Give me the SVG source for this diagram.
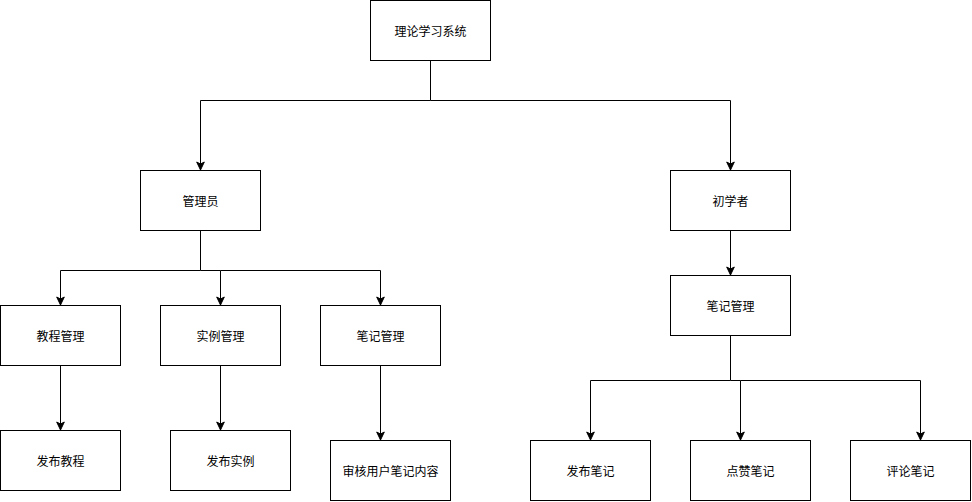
<svg xmlns="http://www.w3.org/2000/svg" width="972" height="502" viewBox="0 0 972 502">
<defs>
<style>
.box{fill:#fff;stroke:#000;stroke-width:1}
.lbl{font-family:"Noto Sans CJK SC","Liberation Sans",sans-serif;font-size:12px;fill:#000;text-anchor:middle;dominant-baseline:central}
.edge{fill:none;stroke:#000;stroke-width:1}
.arr{marker-end:url(#ah)}
</style>
<marker id="ah" markerUnits="userSpaceOnUse" markerWidth="10" markerHeight="10" refX="9" refY="5" orient="auto">
<path d="M1,1.2 L9,5 L1,8.8 L3,5 Z" fill="#000" stroke="#000" stroke-width="1"/>
</marker>
</defs>
<rect width="972" height="502" fill="#fff"/>
<g id="connectors">
<path class="edge" d="M430.5,60 V100.5 H200.5"/>
<path class="edge arr" d="M200.5,100.5 V170"/>
<path class="edge arr" d="M430.5,100.5 H730.5 V170"/>
<path class="edge" d="M200.5,230 V270.5 H60.5"/>
<path class="edge arr" d="M60.5,270.5 V305"/>
<path class="edge arr" d="M200.5,270.5 H220.5 V305"/>
<path class="edge arr" d="M220.5,270.5 H380.5 V305"/>
<path class="edge arr" d="M60.5,365 V430"/>
<path class="edge arr" d="M220.5,365 V430"/>
<path class="edge arr" d="M380.5,365 V440"/>
<path class="edge arr" d="M730.5,230 V275"/>
<path class="edge" d="M730.5,335 V380.5 H590.5"/>
<path class="edge arr" d="M590.5,380.5 V440"/>
<path class="edge arr" d="M730.5,380.5 H740.5 V440"/>
<path class="edge arr" d="M740.5,380.5 H920.5 V440"/>
</g>
<g id="n_root"><rect class="box" x="370.5" y="0.5" width="120" height="60"/><text class="lbl" x="430.5" y="30.5">理论学习系统</text></g>
<g id="n_admin"><rect class="box" x="140.5" y="170.5" width="120" height="60"/><text class="lbl" x="200.5" y="200.5">管理员</text></g>
<g id="n_beginner"><rect class="box" x="670.5" y="170.5" width="120" height="60"/><text class="lbl" x="730.5" y="200.5">初学者</text></g>
<g id="n_tutorial_mgmt"><rect class="box" x="0.5" y="305.5" width="120" height="60"/><text class="lbl" x="60.5" y="335.5">教程管理</text></g>
<g id="n_example_mgmt"><rect class="box" x="160.5" y="305.5" width="120" height="60"/><text class="lbl" x="220.5" y="335.5">实例管理</text></g>
<g id="n_note_mgmt_admin"><rect class="box" x="320.5" y="305.5" width="120" height="60"/><text class="lbl" x="380.5" y="335.5">笔记管理</text></g>
<g id="n_note_mgmt_user"><rect class="box" x="670.5" y="275.5" width="120" height="60"/><text class="lbl" x="730.5" y="305.5">笔记管理</text></g>
<g id="n_pub_tutorial"><rect class="box" x="0.5" y="430.5" width="120" height="60"/><text class="lbl" x="60.5" y="460.5">发布教程</text></g>
<g id="n_pub_example"><rect class="box" x="170.5" y="430.5" width="120" height="60"/><text class="lbl" x="230.5" y="460.5">发布实例</text></g>
<g id="n_review"><rect class="box" x="330.5" y="440.5" width="120" height="60"/><text class="lbl" x="390.5" y="470.5">审核用户笔记内容</text></g>
<g id="n_pub_note"><rect class="box" x="530.5" y="440.5" width="120" height="60"/><text class="lbl" x="590.5" y="470.5">发布笔记</text></g>
<g id="n_like_note"><rect class="box" x="690.5" y="440.5" width="120" height="60"/><text class="lbl" x="750.5" y="470.5">点赞笔记</text></g>
<g id="n_comment_note"><rect class="box" x="850.5" y="440.5" width="120" height="60"/><text class="lbl" x="910.5" y="470.5">评论笔记</text></g>
</svg>
